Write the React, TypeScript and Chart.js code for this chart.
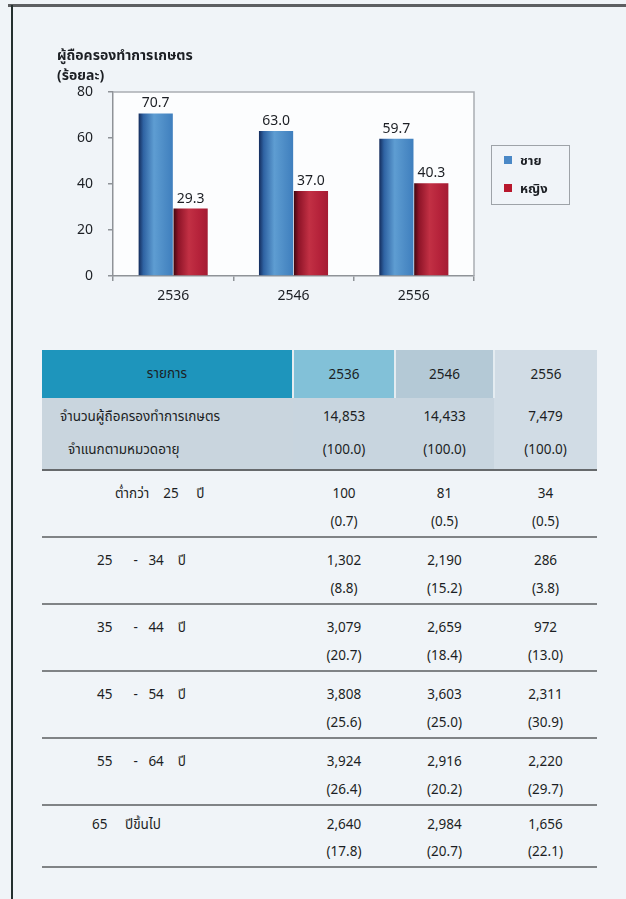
import React, { useEffect, useRef } from "react";
import { Chart, registerables } from "chart.js";

Chart.register(...registerables);

// ---------- data ----------
const years = ["2536", "2546", "2556"];
const seriesLabels = ["ชาย", "หญิง"];
const maleShare = [70.7, 63.0, 59.7];
const femaleShare = [29.3, 37.0, 40.3];
const yMin = 0;
const yMax = 80;
const yStep = 20;
const chartTitle = ["ผู้ถือครองทำการเกษตร", "(ร้อยละ)"];

const tableHeader = "รายการ";
const totalLabel = ["จำนวนผู้ถือครองทำการเกษตร", "จำแนกตามหมวดอายุ"];
const totalCounts = [14853, 14433, 7479];
const totalPercents = [100.0, 100.0, 100.0];
const ageGroups = [
  "ต่ำกว่า    25     ปี",
  "25      -   34    ปี",
  "35      -   44    ปี",
  "45      -   54    ปี",
  "55      -   64    ปี",
  "65     ปีขึ้นไป",
];
const counts2536 = [100, 1302, 3079, 3808, 3924, 2640];
const counts2546 = [81, 2190, 2659, 3603, 2916, 2984];
const counts2556 = [34, 286, 972, 2311, 2220, 1656];
const pct2536 = [0.7, 8.8, 20.7, 25.6, 26.4, 17.8];
const pct2546 = [0.5, 15.2, 18.4, 25.0, 20.2, 20.7];
const pct2556 = [0.5, 3.8, 13.0, 30.9, 29.7, 22.1];

// ---------- styles ----------
const FONT = "Tahoma, 'Noto Sans', 'Noto Sans Thai', sans-serif";
const TEXT = "#1c1f24";
const blueStops: [number, string][] = [
  [0, "#142c5c"],
  [0.14, "#2f63a3"],
  [0.45, "#5e9dd2"],
  [0.75, "#4d8cc6"],
  [1, "#3f7fbe"],
];
const redStops: [number, string][] = [
  [0, "#3e0710"],
  [0.14, "#8e1428"],
  [0.45, "#c23044"],
  [0.75, "#b5223a"],
  [1, "#a41c33"],
];
const legendColors = ["#4a88c6", "#b8172c"];

const cylinderPlugin = {
  id: "cylinder",
  beforeDraw(chart: any) {
    const { ctx, chartArea } = chart;
    ctx.save();
    ctx.fillStyle = "#fcfdfe";
    ctx.fillRect(chartArea.left, chartArea.top, chartArea.right - chartArea.left, chartArea.bottom - chartArea.top);
    ctx.restore();
  },
  beforeDatasetsDraw(chart: any) {
    const { ctx, chartArea } = chart;
    ctx.save();
    ctx.strokeStyle = "#a9adb2";
    ctx.lineWidth = 1.5;
    ctx.beginPath();
    ctx.moveTo(chartArea.left, chartArea.top);
    ctx.lineTo(chartArea.right, chartArea.top);
    ctx.lineTo(chartArea.right, chartArea.bottom);
    ctx.stroke();
    ctx.restore();
    chart.data.datasets.forEach((ds: any, di: number) => {
      const meta = chart.getDatasetMeta(di);
      meta.data.forEach((el: any) => {
        const { x, width } = el.getProps(["x", "width"], true);
        const g = ctx.createLinearGradient(x - width / 2, 0, x + width / 2, 0);
        (ds.gradientStops as [number, string][]).forEach(([o, c]) => g.addColorStop(o, c));
        el.options.backgroundColor = g;
      });
    });
  },
  afterDatasetsDraw(chart: any) {
    const { ctx } = chart;
    ctx.save();
    ctx.font = `14px ${FONT}`;
    ctx.fillStyle = TEXT;
    ctx.textAlign = "center";
    ctx.textBaseline = "bottom";
    chart.data.datasets.forEach((ds: any, di: number) => {
      const meta = chart.getDatasetMeta(di);
      meta.data.forEach((el: any, i: number) => {
        const v = ds.data[i] as number;
        ctx.fillText(v.toFixed(1), el.x, el.y - 3);
      });
    });
    ctx.restore();
  },
  afterDraw(chart: any) {
    const { ctx } = chart;
    const bx = 491, by = 145, bw = 78, bh = 59;
    ctx.save();
    ctx.strokeStyle = "#9ea3a8";
    ctx.lineWidth = 1;
    ctx.strokeRect(bx + 0.5, by + 0.5, bw, bh);
    ctx.font = `bold 13px ${FONT}`;
    ctx.textBaseline = "middle";
    ctx.textAlign = "left";
    chart.data.datasets.forEach((ds: any, di: number) => {
      const cy = by + 15 + di * 28;
      ctx.fillStyle = ds.legendColor;
      ctx.fillRect(bx + 13, cy - 4, 8, 8);
      ctx.fillStyle = TEXT;
      ctx.fillText(ds.label, bx + 29, cy + 1);
    });
    ctx.restore();
  },
};

function fmtCount(n: number) {
  return n.toLocaleString("en-US");
}
function fmtPct(n: number) {
  return `(${n.toFixed(1)})`;
}

const labelPad = [73, 55, 55, 55, 55, 50];

export default function App() {
  const ref = useRef<HTMLCanvasElement>(null);

  useEffect(() => {
    const chart = new Chart(ref.current as HTMLCanvasElement, {
      type: "bar",
      data: {
        labels: years,
        datasets: [
          {
            label: seriesLabels[0],
            data: maleShare,
            backgroundColor: () => legendColors[0],
            gradientStops: blueStops,
            legendColor: legendColors[0],
            borderWidth: 0,
            categoryPercentage: 0.58,
            barPercentage: 0.98,
          } as any,
          {
            label: seriesLabels[1],
            data: femaleShare,
            backgroundColor: () => legendColors[1],
            gradientStops: redStops,
            legendColor: legendColors[1],
            borderWidth: 0,
            categoryPercentage: 0.58,
            barPercentage: 0.98,
          } as any,
        ],
      },
      options: {
        responsive: false,
        animation: false,
        devicePixelRatio: 1,
        layout: { padding: { left: 63, right: 152, top: 92, bottom: 12 } },
        plugins: {
          legend: { display: false },
          tooltip: { enabled: false },
          title: { display: false },
        },
        scales: {
          x: {
            grid: {
              offset: true,
              drawOnChartArea: false,
              drawTicks: true,
              tickLength: 5,
              color: "#8f9398",
              lineWidth: 1.5,
            },
            border: { display: true, color: "#8f9398", width: 1.5 },
            ticks: {
              color: TEXT,
              font: { family: FONT, size: 14 },
              padding: 7,
            },
            afterFit: (s: any) => {
              s.height = 32;
            },
          },
          y: {
            min: yMin,
            max: yMax,
            ticks: {
              stepSize: yStep,
              color: TEXT,
              font: { family: FONT, size: 14 },
              padding: 15,
            },
            grid: {
              drawOnChartArea: false,
              drawTicks: true,
              tickLength: 5,
              color: "#8f9398",
              lineWidth: 1.5,
            },
            border: { display: true, color: "#8f9398", width: 1.5 },
            afterFit: (s: any) => {
              s.width = 50;
            },
          },
        },
      },
      plugins: [cylinderPlugin],
    });
    return () => chart.destroy();
  }, []);

  const headerBg = ["#1e95bc", "#82c1d8", "#b4c9d6", "#d1dce5"];
  const row2Bg = ["#c9d5de", "#c8d5df", "#c8d5df", "#d1dce5"];
  const cellBase: React.CSSProperties = { padding: 0, textAlign: "center", verticalAlign: "top" };
  const counts = [counts2536, counts2546, counts2556];
  const pcts = [pct2536, pct2546, pct2556];
  const lastRow = ageGroups.length - 1;

  return (
    <div
      style={{
        position: "absolute",
        left: 0,
        top: 0,
        width: 626,
        height: 899,
        overflow: "hidden",
        background: "#f0f4f8",
        fontFamily: FONT,
        color: TEXT,
      }}
    >
      <canvas ref={ref} width={626} height={320} style={{ position: "absolute", left: 0, top: 0 }} />
      {/* frame */}
      <div style={{ position: "absolute", left: 8, top: 4, width: 618, height: 3, background: "#5d5f62" }} />
      <div style={{ position: "absolute", left: 11, top: 5, width: 2, height: 894, background: "#24302f" }} />
      {/* chart title */}
      <div style={{ position: "absolute", left: 57, top: 45, fontSize: 14, fontWeight: "bold", lineHeight: "20px" }}>
        <div>{chartTitle[0]}</div>
        <div>{chartTitle[1]}</div>
      </div>
      {/* table */}
      <table
        style={{
          position: "absolute",
          left: 42,
          top: 350,
          width: 555,
          borderCollapse: "collapse",
          tableLayout: "fixed",
          fontSize: 13.5,
          color: TEXT,
        }}
      >
        <colgroup>
          <col style={{ width: 251 }} />
          <col style={{ width: 102 }} />
          <col style={{ width: 99 }} />
          <col style={{ width: 103 }} />
        </colgroup>
        <tbody>
          <tr style={{ height: 48 }}>
            <td style={{ ...cellBase, verticalAlign: "middle", background: headerBg[0] }}>{tableHeader}</td>
            {years.map((y, i) => (
              <td
                key={y}
                style={{
                  ...cellBase,
                  verticalAlign: "middle",
                  background: headerBg[i + 1],
                  borderLeft: "2px solid #e4ecf1",
                }}
              >
                {y}
              </td>
            ))}
          </tr>
          <tr style={{ height: 72 }}>
            <td
              style={{
                ...cellBase,
                textAlign: "left",
                background: row2Bg[0],
                borderBottom: "2px solid #66696c",
                lineHeight: "33px",
                paddingTop: 2,
              }}
            >
              <div style={{ paddingLeft: 18 }}>{totalLabel[0]}</div>
              <div style={{ paddingLeft: 26 }}>{totalLabel[1]}</div>
            </td>
            {years.map((y, i) => (
              <td
                key={y}
                style={{
                  ...cellBase,
                  background: row2Bg[i + 1],
                  borderBottom: "2px solid #66696c",
                  lineHeight: "33px",
                  paddingTop: 2,
                }}
              >
                <div>{fmtCount(totalCounts[i])}</div>
                <div>{fmtPct(totalPercents[i])}</div>
              </td>
            ))}
          </tr>
          {ageGroups.map((g, r) => {
            const rowStyle: React.CSSProperties = {
              paddingTop: r === lastRow ? 5 : 8,
              lineHeight: r === lastRow ? "27px" : "28px",
              borderBottom: "2px solid #808386",
            };
            return (
              <tr key={g} style={{ height: r === lastRow ? 62 : 67 }}>
                <td
                  style={{
                    ...cellBase,
                    ...rowStyle,
                    textAlign: "left",
                    whiteSpace: "pre",
                    paddingLeft: labelPad[r],
                  }}
                >
                  {g}
                </td>
                {years.map((y, i) => (
                  <td key={y} style={{ ...cellBase, ...rowStyle }}>
                    <div>{fmtCount(counts[i][r])}</div>
                    <div>{fmtPct(pcts[i][r])}</div>
                  </td>
                ))}
              </tr>
            );
          })}
        </tbody>
      </table>
    </div>
  );
}
